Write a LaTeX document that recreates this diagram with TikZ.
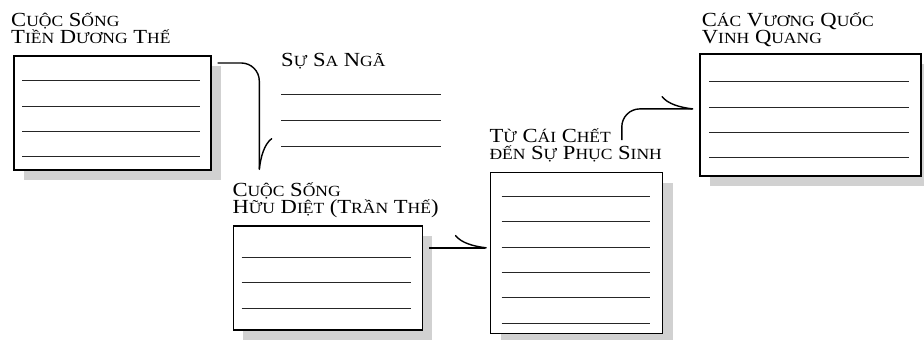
\documentclass[tikz,border=0pt]{standalone}
\usepackage{fontspec}
\setmainfont{Liberation Serif}[FakeStretch=1.13]
\usetikzlibrary{arrows.meta,shadows}
\newcommand{\lowcaps}[1]{{\fontsize{15.5}{17.3}\selectfont #1}}

\begin{document}
\begin{tikzpicture}[x=1pt,y=-1pt,
    card/.style={draw, line width=1.6pt, fill=white, inner sep=0pt, anchor=north west,
        drop shadow={shadow xshift=10pt, shadow yshift=-10pt, fill=black!18, opacity=1}},
    boxtitle/.style={anchor=base west, inner sep=0pt, align=left, font=\fontsize{20}{17.3}\selectfont},
    rule/.style={line width=0.9pt, black!85},
    link/.style={line width=1.4pt, rounded corners=18pt, -{Computer Modern Rightarrow[harpoon, length=32pt, width=26pt]}}]
        \useasboundingbox (0,0) rectangle (924,340);

        \node[card, minimum width=197pt, minimum height=114pt] (pre) at (13,55) {};
        \node[card, minimum width=189pt, minimum height=104pt] (mortal) at (232.5,225.3) {};
        \node[card, minimum width=172pt, minimum height=160.7pt] (death) at (489.8,171.8) {};
        \node[card, minimum width=221pt, minimum height=122pt] (glory) at (699,53) {};

        % titles, placed by the baseline of their last line
        \node[boxtitle] (preT) at (11,43.6) {C\lowcaps{UỘC} S\lowcaps{ỐNG}\\T\lowcaps{IỀN} D\lowcaps{ƯƠNG} T\lowcaps{HẾ}};
        \node[boxtitle] (fallT) at (281,66.7) {S\lowcaps{Ự} S\lowcaps{A} N\lowcaps{GÃ}};
        \node[boxtitle] (mortT) at (232.3,213.3) {C\lowcaps{UỘC} S\lowcaps{ỐNG}\\H\lowcaps{ỮU} D\lowcaps{IỆT} (T\lowcaps{RẦN} T\lowcaps{HẾ})};
        \node[boxtitle] (deathT) at (489.3,159.3) {T\lowcaps{Ừ} C\lowcaps{ÁI} C\lowcaps{HẾT}\\\lowcaps{ĐẾN} S\lowcaps{Ự} P\lowcaps{HỤC} S\lowcaps{INH}};
        \node[boxtitle] (gloryT) at (701.7,43.3) {C\lowcaps{ÁC} V\lowcaps{ƯƠNG} Q\lowcaps{UỐC}\\V\lowcaps{INH} Q\lowcaps{UANG}};

        % ruled lines
        \foreach \y in {80.7,106.7,131.7,156.7} \draw[rule] (22,\y) -- (200,\y);
        \foreach \y in {94,120,146} \draw[rule] (281,\y) -- (440.7,\y);
        \foreach \y in {257.3,282.7,308.3} \draw[rule] (241.7,\y) -- (410.7,\y);
        \foreach \y in {196,221.7,247,272.3,297.7,323.3} \draw[rule] (501.7,\y) -- (650,\y);
        \foreach \y in {81.7,107.3,132.7,157.3} \draw[rule] (709.3,\y) -- (909.3,\y);

        \draw[link] ([shift={(6,8)}]pre.north east) -| ([shift={(27,-43.3)}]mortT.base west);
        \draw[link, shorten >=3pt] ([shift={(6,22.5)}]mortal.north east) coordinate (m) -- (m -| death.west);
        \draw[link] ([shift={(132.5,-19.3)}]deathT.base west) |- ([shift={(-5.6,-5.9)}]glory.west);
    \end{tikzpicture}
\end{document}
